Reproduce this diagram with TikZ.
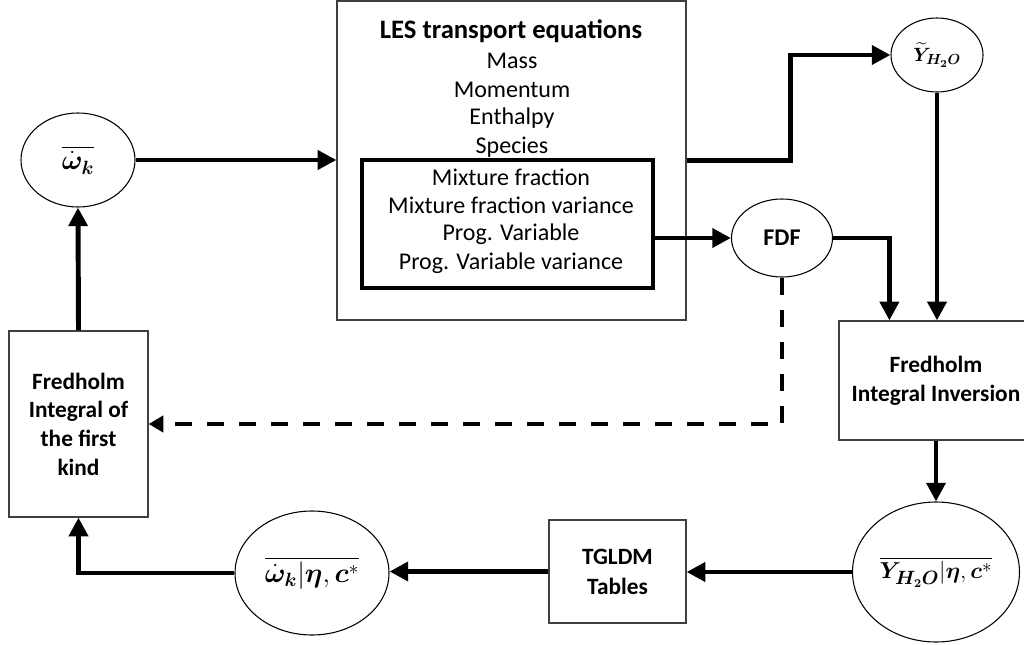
\documentclass[tikz,border=0pt]{standalone}
\usepackage{fontspec}
\setmainfont{Carlito}
\usepackage{amsmath,bm}
\usetikzlibrary{arrows.meta,calc,shapes.geometric}
\begin{document}
\begin{tikzpicture}[x=0.75pt,y=-0.75pt,
  txt/.style={font=\fontsize{18}{21.5}\selectfont, inner sep=0pt, anchor=center},
  box/.style={draw=black!75, line width=0.9pt, fill=white, align=center, inner sep=0pt,
     font=\fontsize{17.5}{21.5}\selectfont\bfseries},
  oval/.style={draw=black, line width=0.8pt, ellipse, inner sep=0pt},
  arr/.style={line width=3.7pt, -{Triangle[length=14pt,width=14pt]}},
  dasharr/.style={line width=3.7pt, dash pattern=on 13pt off 11pt, -{Triangle[length=11pt,width=12pt]}}
]
\useasboundingbox (0,0) rectangle (1024,645);

% LES box
\node[box, minimum width=261.75pt, minimum height=239.25pt] (les) at (511.5,160.5) {};
\node[draw=black, line width=2.4pt, minimum width=218.25pt, minimum height=96pt, inner sep=0pt] (inner) at (507.5,224) {};
\node[txt, font=\fontsize{20}{24}\selectfont\bfseries] (t0) at (511,31) {LES transport equations};
\node[txt] (t1) at (512,61) {Mass};
\node[txt] (t2) at (512,90) {Momentum};
\node[txt] (t3) at (512,118) {Enthalpy};
\node[txt] (t4) at (512,147) {Species};
\node[txt] (t5) at (511,177) {Mixture fraction};
\node[txt] (t6) at (511,205) {Mixture fraction variance};
\node[txt] (t7) at (511,234) {Prog. Variable};
\node[txt] (t8) at (511,263) {Prog. Variable variance};

% ellipses
\node[oval, minimum width=85.5pt, minimum height=70.5pt, font=\fontsize{22}{24}\selectfont] (w) at (78,160)
  {$\overline{\dot{\bm{\omega}}_{\bm{k}}}$};
\node[oval, minimum width=69pt, minimum height=55.5pt, font=\fontsize{15.5}{18}\selectfont] (yt) at (937,55)
  {$\widetilde{\bm{Y}}_{\bm{H_2O}}$};
\node[oval, minimum width=75.75pt, minimum height=58.5pt, font=\fontsize{18}{20}\selectfont\bfseries] (fdf) at (782,238) {FDF};
\node[oval, minimum width=125.25pt, minimum height=105pt, font=\fontsize{19}{24}\selectfont] (yb) at (936,572)
  {$\overline{\bm{Y}_{\bm{H_2O}}|\bm{\eta},\bm{c}^{*}}$};
\node[oval, minimum width=115.5pt, minimum height=93pt, font=\fontsize{20}{24}\selectfont] (we) at (312,573)
  {$\overline{\dot{\bm{\omega}}_{\bm{k}}|\bm{\eta},\bm{c}^{*}}$};

% boxes
\node[box, minimum width=145.5pt, minimum height=89.25pt] (inv) at (936,380.5) {Fredholm\\[0.4pt]Integral Inversion};
\node[box, minimum width=102.75pt, minimum height=77.25pt] (tg) at (617.5,571.5) {TGLDM\\[1pt]Tables};
\node[box, minimum width=104.25pt, minimum height=139.5pt] (fk) at (78.5,424) {Fredholm\\Integral of\\the first\\kind};

% connectors
\draw[arr] (w.east) -- (w.east -| les.west);
\draw[arr] (les.east) -- ++(104,0) |- (yt.west);
\draw[arr] (yt.south) -- (yt.south |- inv.north);
\draw[arr] (fdf.west -| inner.east) -- (fdf.west);
\draw[arr] (fdf.east) -| ($(inv.north west)+(51,0)$);
\draw[dasharr] (fdf.south) |- (fk.east);
\draw[arr] (inv.south) -- (yb.north);
\draw[arr] (yb.west) -- (yb.west -| tg.east);
\draw[arr] (tg.west) -- (tg.west -| we.east);
\draw[arr] (we.west) -| (fk.south);
\draw[arr] (fk.north) -- (w.south);
\end{tikzpicture}
\end{document}
